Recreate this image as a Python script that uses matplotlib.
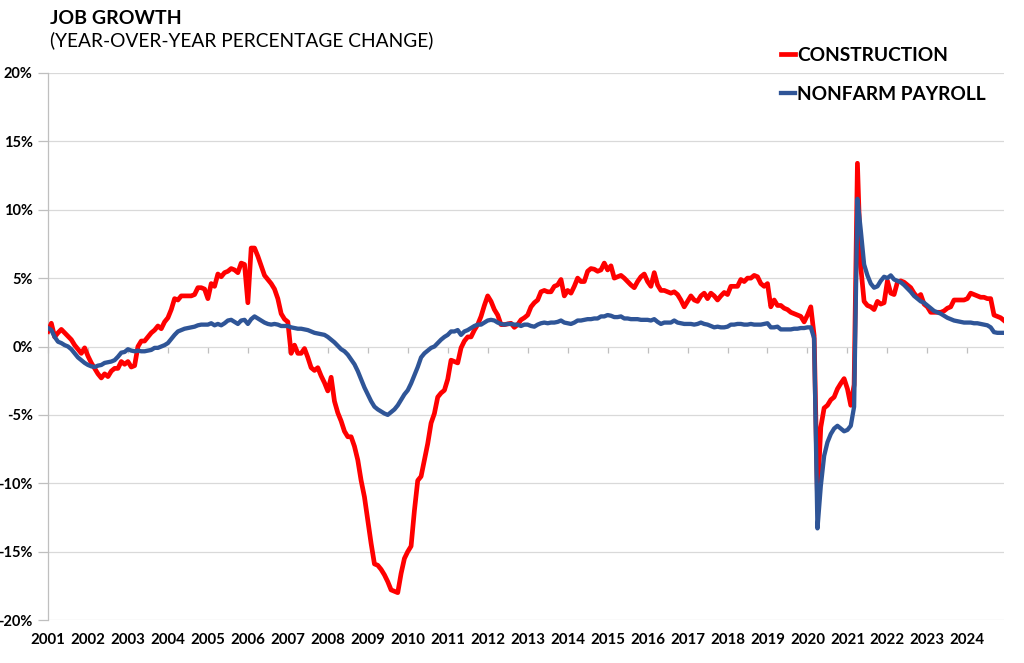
import numpy as np
import matplotlib
matplotlib.use("Agg")
import matplotlib.pyplot as plt

plt.rcParams['font.family'] = ['Lato', 'DejaVu Sans']

# ---------------- data (monthly, Jan 2001 .. Dec 2024), YoY % change ----------------
start_year = 2001
end_year = 2024

construction = [
    1.1, 1.7, 0.7, 1.0, 1.25, 1.0, 0.75, 0.5, 0.1, -0.2, -0.5, -0.1,            # 2001
    -0.7, -1.2, -1.6, -2.0, -2.3, -2.0, -2.2, -1.8, -1.6, -1.6, -1.1, -1.3,     # 2002
    -1.1, -1.5, -1.4, 0.0, 0.4, 0.4, 0.7, 1.0, 1.2, 1.5, 1.3, 1.8,              # 2003
    2.1, 2.7, 3.5, 3.4, 3.7, 3.7, 3.7, 3.7, 3.8, 4.3, 4.3, 4.2,                 # 2004
    3.5, 4.6, 4.4, 5.3, 5.1, 5.4, 5.5, 5.7, 5.6, 5.4, 6.1, 6.0,                 # 2005
    3.2, 7.2, 7.2, 6.6, 5.9, 5.2, 4.9, 4.6, 4.2, 3.5, 2.4, 2.0,                 # 2006
    1.8, -0.5, 0.1, -0.5, -0.5, -0.15, -0.8, -1.55, -1.75, -1.55, -2.15, -2.65, # 2007
    -3.25, -2.25, -4.0, -4.85, -5.45, -6.2, -6.6, -6.6, -7.3, -8.3, -9.8, -11.0,  # 2008
    -12.7, -14.4, -15.9, -16.0, -16.3, -16.7, -17.2, -17.8, -17.9, -18.0, -16.6, -15.5,  # 2009
    -15.0, -14.6, -12.0, -9.8, -9.5, -8.3, -7.1, -5.6, -4.9, -3.7, -3.4, -3.2,  # 2010
    -2.4, -1.0, -1.1, -1.2, -0.1, 0.4, 0.7, 0.7, 1.2, 1.6, 2.2, 3.0,            # 2011
    3.7, 3.3, 2.7, 2.3, 1.6, 1.6, 1.65, 1.7, 1.4, 1.6, 1.95, 2.1,               # 2012
    2.3, 2.9, 3.2, 3.4, 4.0, 4.1, 4.0, 4.0, 4.4, 4.5, 4.9, 3.7,                 # 2013
    4.1, 3.9, 4.4, 5.0, 4.75, 4.75, 5.5, 5.7, 5.65, 5.5, 5.6, 6.1,              # 2014
    5.6, 5.9, 5.0, 5.1, 5.2, 5.0, 4.75, 4.5, 4.3, 4.75, 5.1, 5.3,               # 2015
    4.75, 4.4, 5.4, 4.5, 4.1, 4.1, 4.0, 3.9, 4.0, 3.8, 3.4, 2.9,                # 2016
    3.3, 3.7, 3.4, 3.3, 3.7, 3.9, 3.5, 3.9, 3.7, 3.4, 3.7, 3.95,                # 2017
    3.8, 4.4, 4.4, 4.4, 4.9, 4.75, 5.0, 5.0, 5.2, 5.1, 4.6, 4.4,                # 2018
    4.6, 2.9, 3.4, 3.0, 3.0, 2.8, 2.7, 2.5, 2.4, 2.3, 2.2, 1.8,                 # 2019
    2.3, 2.9, 0.8, -11.0, -5.9, -4.5, -4.3, -3.9, -3.7, -3.1, -2.7, -2.35,      # 2020
    -3.1, -4.3, -2.8, 13.4, 5.8, 3.3, 3.0, 2.9, 2.7, 3.3, 3.1, 3.2,             # 2021
    4.8, 3.9, 3.8, 4.7, 4.8, 4.7, 4.5, 4.3, 3.9, 3.6, 3.8, 3.1,                 # 2022
    2.9, 2.5, 2.5, 2.5, 2.5, 2.6, 2.8, 2.9, 3.4, 3.4, 3.4, 3.4,                 # 2023
    3.5, 3.9, 3.8, 3.7, 3.6, 3.6, 3.5, 3.5, 2.3, 2.2, 2.1, 1.9,                 # 2024
]

nonfarm = [
    1.35, 1.2, 0.7, 0.35, 0.25, 0.1, 0.0, -0.2, -0.5, -0.8, -1.0, -1.2,         # 2001
    -1.35, -1.45, -1.5, -1.4, -1.35, -1.2, -1.15, -1.1, -1.0, -0.75, -0.45, -0.4,  # 2002
    -0.2, -0.3, -0.35, -0.3, -0.35, -0.35, -0.3, -0.25, -0.1, -0.1, 0.0, 0.1,   # 2003
    0.25, 0.55, 0.85, 1.1, 1.2, 1.3, 1.35, 1.4, 1.45, 1.55, 1.6, 1.6,           # 2004
    1.6, 1.7, 1.55, 1.65, 1.55, 1.7, 1.9, 1.95, 1.8, 1.65, 1.9, 1.95,           # 2005
    1.65, 2.0, 2.2, 2.05, 1.9, 1.75, 1.65, 1.6, 1.65, 1.6, 1.5, 1.5,            # 2006
    1.5, 1.4, 1.35, 1.3, 1.3, 1.25, 1.2, 1.1, 1.0, 0.95, 0.9, 0.85,             # 2007
    0.7, 0.5, 0.3, 0.05, -0.2, -0.35, -0.6, -0.95, -1.3, -1.8, -2.4, -3.0,      # 2008
    -3.5, -4.0, -4.4, -4.6, -4.75, -4.9, -5.0, -4.8, -4.6, -4.3, -3.9, -3.5,    # 2009
    -3.2, -2.7, -2.1, -1.5, -0.8, -0.5, -0.3, -0.1, 0.0, 0.25, 0.5, 0.7,        # 2010
    0.85, 1.1, 1.1, 1.2, 0.85, 1.1, 1.2, 1.35, 1.5, 1.6, 1.6, 1.75,             # 2011
    1.9, 1.95, 1.9, 1.75, 1.65, 1.6, 1.65, 1.65, 1.6, 1.6, 1.5, 1.6,            # 2012
    1.6, 1.5, 1.45, 1.6, 1.7, 1.75, 1.7, 1.75, 1.75, 1.8, 1.9, 1.75,            # 2013
    1.7, 1.65, 1.75, 1.9, 1.9, 1.95, 2.0, 2.0, 2.05, 2.05, 2.2, 2.2,            # 2014
    2.3, 2.25, 2.15, 2.15, 2.2, 2.05, 2.05, 2.0, 2.0, 2.0, 1.95, 1.95,          # 2015
    1.95, 1.9, 2.0, 1.8, 1.65, 1.75, 1.75, 1.75, 1.9, 1.75, 1.7, 1.65,          # 2016
    1.65, 1.65, 1.6, 1.65, 1.75, 1.65, 1.6, 1.5, 1.4, 1.45, 1.4, 1.4,           # 2017
    1.45, 1.6, 1.6, 1.65, 1.65, 1.6, 1.6, 1.65, 1.6, 1.6, 1.6, 1.65,            # 2018
    1.7, 1.4, 1.4, 1.45, 1.25, 1.25, 1.25, 1.25, 1.3, 1.3, 1.35, 1.35,          # 2019
    1.4, 1.4, 0.6, -13.3, -10.2, -8.0, -7.0, -6.4, -6.0, -5.8, -6.0, -6.2,      # 2020
    -6.1, -5.8, -4.4, 10.8, 8.5, 6.0, 5.2, 4.6, 4.3, 4.4, 4.8, 5.1,             # 2021
    5.0, 5.2, 4.9, 4.8, 4.7, 4.5, 4.25, 4.0, 3.7, 3.5, 3.3, 3.2,                # 2022
    3.0, 2.8, 2.6, 2.5, 2.4, 2.25, 2.1, 2.0, 1.9, 1.85, 1.8, 1.75,              # 2023
    1.75, 1.75, 1.7, 1.7, 1.65, 1.6, 1.55, 1.4, 1.05, 1.0, 1.0, 1.0,            # 2024
]

year_labels = [str(y) for y in range(start_year, end_year + 1)]
y_ticks = [-20, -15, -10, -5, 0, 5, 10, 15, 20]

title = "JOB GROWTH"
subtitle = "(YEAR-OVER-YEAR PERCENTAGE CHANGE)"
series_names = ["CONSTRUCTION", "NONFARM PAYROLL"]
series_colors = ["#FF0000", "#2F5597"]

# ---------------- figure ----------------
n = len(construction)
t = start_year + np.arange(n) / 12.0

fig = plt.figure(figsize=(10.24, 6.63), dpi=100)
ax = fig.add_axes([48 / 1024, 1 - 620 / 663, (1004 - 48) / 1024, (620 - 73) / 663])

grid_c = "#D9D9D9"
axis_c = "#BFBFBF"

ax.set_ylim(-20, 20)
ax.set_xlim(t[0], t[-1])
ax.set_yticks(y_ticks)
ax.set_yticklabels([f"{v}%" for v in y_ticks])
ax.yaxis.grid(True, color=grid_c, lw=0.9)
ax.set_axisbelow(True)

for s in ["top", "right", "bottom"]:
    ax.spines[s].set_visible(False)
ax.spines["left"].set_color(axis_c)
ax.spines["left"].set_linewidth(0.9)

ax.tick_params(axis="y", direction="out", length=7, width=0.9, color=axis_c,
               pad=4, labelsize=10.5, labelcolor="black")
for lab in ax.get_yticklabels():
    lab.set_fontweight("bold")

year_pos = [float(y) for y in range(start_year, end_year + 1)]
ax.set_xticks(year_pos)
ax.set_xticklabels(year_labels)
ax.tick_params(axis="x", length=0, pad=9, labelsize=10.8)
for lab in ax.get_xticklabels():
    lab.set_fontweight("bold")

# horizontal axis crossing at 0 with tick marks
sec = ax.secondary_xaxis(0.5)
sec.set_xticks(year_pos)
sec.xaxis.set_ticks_position("bottom")
sec.tick_params(axis="x", direction="out", length=4, width=0.9, color=axis_c,
                labelbottom=False, labeltop=False)
sec.spines["bottom"].set_color(axis_c)
sec.spines["bottom"].set_linewidth(0.9)
for s in ["top", "left", "right"]:
    if s in sec.spines:
        sec.spines[s].set_visible(False)

l1, = ax.plot(t, construction, color=series_colors[0], lw=3.4,
              solid_joinstyle="round", label=series_names[0], zorder=3)
l2, = ax.plot(t, nonfarm, color=series_colors[1], lw=3.1,
              solid_joinstyle="round", label=series_names[1], zorder=4)

leg = fig.legend(handles=[l1, l2], loc="center left",
                 bbox_to_anchor=(781 / 1024, 1 - 75 / 663),
                 frameon=False, handlelength=0.75, handletextpad=0.1,
                 labelspacing=1.15, borderpad=0, borderaxespad=0,
                 prop={"family": "Lato", "weight": "bold", "size": 13.8})

fig.text(50 / 1024, 1 - 24 / 663, title, fontsize=14, fontweight="bold",
         va="baseline", ha="left")
fig.text(50 / 1024, 1 - 46 / 663, subtitle, fontsize=13.8,
         va="baseline", ha="left")

fig.savefig("out.png", dpi=100)
